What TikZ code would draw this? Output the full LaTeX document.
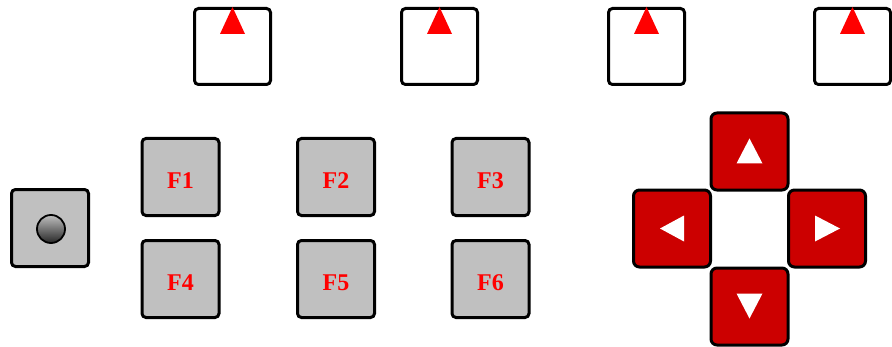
\documentclass[tikz,border=0pt]{standalone}
\usepackage{fontspec}
\setmainfont{Liberation Serif}
\usetikzlibrary{calc,positioning}

\definecolor{keygray}{HTML}{C0C0C0}
\definecolor{padred}{HTML}{CC0000}

\begin{document}
\begin{tikzpicture}[x=1pt,y=1pt,
		key/.style={draw=black,line width=3pt,rounded corners=4pt,
			minimum width=77pt,minimum height=77pt,inner sep=0pt},
		topkey/.style={key,fill=white,minimum width=76pt,minimum height=76pt},
		fkey/.style={key,fill=keygray,text=red,text height=23pt,text depth=0pt,
			font=\fontsize{24}{24}\selectfont\bfseries},
		padkey/.style={key,fill=padred,rounded corners=6pt}]
		\useasboundingbox (0,0) rectangle (892,346);

		% row of marker boxes
		\node[topkey] (T1) at (232.5,299.5) {};
		\node[topkey] (T2) at (439.5,299.5) {};
		\node[topkey] (T3) at (646.5,299.5) {};
		\node[topkey] (T4) at (852.5,299.5) {};
		\foreach \t in {T1,T2,T3,T4}
			\fill[red] ($(\t)+(0,39.5)$) -- ($(\t)+(-12.5,12.5)$) -- ($(\t)+(12.5,12.5)$) -- cycle;

		% knob
		\node[key,fill=keygray] (K) at (50,118) {};
		\shadedraw[top color=gray!50,middle color=white,bottom color=black!85,
			draw=black,line width=1.8pt] ($(K)+(1,-1)$) circle (14);

		% function keys
		\node[fkey] (F1) at (180.5,169) {F1};
		\node[fkey] (F2) at (336,169) {F2};
		\node[fkey] (F3) at (490.5,169) {F3};
		\node[fkey] (F4) at (180.5,67) {F4};
		\node[fkey] (F5) at (336,67) {F5};
		\node[fkey] (F6) at (490.5,67) {F6};

		% arrow pad
		\node[padkey] (U) at (749.5,194.5) {};
		\node[padkey] (L) at (672,117.5) {};
		\node[padkey] (R) at (827,117.5) {};
		\node[padkey] (D) at (749.5,39.5) {};
		\fill[white] ($(U)+(0,13)$) -- ($(U)+(-13,-12)$) -- ($(U)+(13,-12)$) -- cycle;
		\fill[white] ($(D)+(0,-12)$) -- ($(D)+(-13,13)$) -- ($(D)+(13,13)$) -- cycle;
		\fill[white] ($(L)+(-12,0)$) -- ($(L)+(12,13)$) -- ($(L)+(12,-13)$) -- cycle;
		\fill[white] ($(R)+(13,0)$) -- ($(R)+(-12,13)$) -- ($(R)+(-12,-13)$) -- cycle;
	\end{tikzpicture}
\end{document}
